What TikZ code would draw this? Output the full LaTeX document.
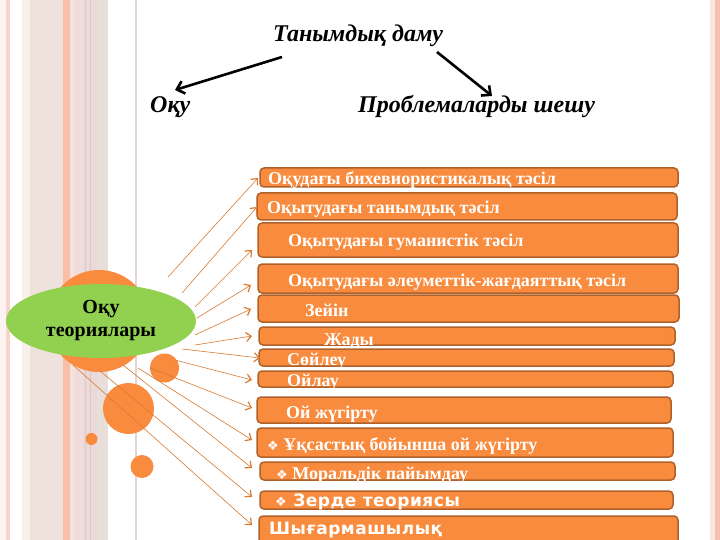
\documentclass[tikz,border=0pt]{standalone}
\usepackage{fontspec}
\setmainfont{Liberation Serif}
\newfontfamily\dejavu{DejaVu Sans}
\newfontfamily\sansb[LetterSpace=3]{DejaVu Sans}
\usetikzlibrary{arrows.meta,shapes.geometric,calc}
\definecolor{orng}{HTML}{F88B3D}
\definecolor{bord}{HTML}{B0612A}
\definecolor{conn}{HTML}{D97A30}
\definecolor{grn}{HTML}{92D050}
\definecolor{sA}{HTML}{FDF3F0}
\definecolor{sB}{HTML}{F8D5CB}
\definecolor{sC}{HTML}{F9F0EC}
\definecolor{sD}{HTML}{EFE1DB}
\definecolor{sE}{HTML}{FBBFA9}
\definecolor{sF}{HTML}{F5E2DC}
\definecolor{sG}{HTML}{F0DCDA}
\definecolor{sH}{HTML}{EAD9D7}
\definecolor{sI}{HTML}{E8DEDA}
\definecolor{vline}{HTML}{E2D6D2}
\definecolor{rstrip}{HTML}{F4C0B0}
\newcommand{\dia}{{\fontsize{13}{13}\selectfont\dejavu ❖}}
\begin{document}
\begin{tikzpicture}[x=1pt,y=-1pt,
  box/.style={draw=bord,line width=1.5pt,fill=orng,rounded corners=4pt,inner sep=0pt,outer sep=0pt},
  txt/.style={text=white,font=\fontsize{18}{20}\selectfont\bfseries,anchor=base west,inner sep=0pt},
  stxt/.style={text=white,font=\fontsize{17}{19}\selectfont\sansb\bfseries,anchor=base west,inner sep=0pt},
  head/.style={font=\fontsize{24}{26}\selectfont\bfseries\itshape,anchor=base west,inner sep=0pt},
  connector/.style={draw=conn,line width=0.6pt,-{Straight Barb[length=5pt,width=9pt,line width=1.2pt]}},
  bigarrow/.style={draw=black,line width=2.6pt,-{Straight Barb[length=7pt,width=13pt]}}]
\useasboundingbox (0,0) rectangle (720,540);
\clip (0,0) rectangle (720,540);
\fill[white] (0,0) rectangle (720,540);
% left decorative strips
\fill[sA] (0,0) rectangle (6,540);
\fill[sB] (6,0) rectangle (10,540);
\fill[sC] (22,0) rectangle (30,540);
\fill[sD] (30,0) rectangle (63,540);
\fill[sE] (63,0) rectangle (70,540);
\fill[sF] (70,0) rectangle (75,540);
\fill[sG] (75,0) rectangle (83,540);
\fill[sH] (83,0) rectangle (97,540);
\fill[sI] (97,0) rectangle (108,540);
\draw[sG!80!gray,line width=0.6pt] (85,0) -- (85,540) (90,0) -- (90,540);
\draw[vline,line width=1.5pt] (136,0) -- (136,540);
% right strip
\fill[rstrip!40] (710,0) rectangle (715,540);
\fill[rstrip] (715,0) rectangle (720,540);
% circles
\fill[orng] (99,321) circle (51);
\fill[orng] (164.5,368) circle (14.5);
\fill[orng] (128.5,408.5) circle (25.5);
\fill[orng] (91.5,439) circle (6);
\fill[orng] (142,466.5) circle (11.5);
% central ellipse
\node[ellipse,fill=grn,minimum width=190,minimum height=74,inner sep=0pt,align=center,
  font=\fontsize{20}{23}\selectfont\bfseries] (ot) at (101,321) {Оқу\\теориялары};
% header
\node[head] (title) at (273,42) {Танымдық даму};
\node[head] (oku) at (150,113) {Оқу};
\node[head] (prob) at (358,113) {Проблемаларды шешу};
\coordinate (a1s) at (282,57);
\coordinate (a1e) at (175,90);
\coordinate (a2s) at (437,52);
\coordinate (a2e) at (492,96);
\draw[bigarrow] (a1s) -- (a1e);
\draw[bigarrow] (a2s) -- (a2e);
% boxes
\node[box,minimum width=418,minimum height=19] (b1) at (469,177.5) {};
\node[box,minimum width=420,minimum height=27] (b2) at (467,206.5) {};
\node[box,minimum width=420,minimum height=34] (b3) at (468,240) {};
\node[box,minimum width=420,minimum height=29] (b4) at (468,278.5) {};
\node[box,minimum width=421,minimum height=27] (b5) at (468.5,308.5) {};
\node[box,minimum width=416,minimum height=18] (b6) at (467,336) {};
\node[box,minimum width=415,minimum height=17] (b7) at (466.5,357.5) {};
\node[box,minimum width=415,minimum height=16] (b8) at (465.5,379) {};
\node[box,minimum width=414,minimum height=26] (b9) at (464,410) {};
\node[box,minimum width=416,minimum height=29] (b10) at (465,442.5) {};
\node[box,minimum width=415,minimum height=18] (b11) at (467.5,471) {};
\node[box,minimum width=413,minimum height=18] (b12) at (466.5,500) {};
\node[box,minimum width=419,minimum height=32] (b13) at (468.5,532) {};
% box texts
\node[txt] (t1) at (268,185) {Оқудағы бихевиористикалық тәсіл};
\node[txt] (t2) at (267,214) {Оқытудағы танымдық тәсіл};
\node[txt] (t3) at (288,246) {Оқытудағы гуманистік тәсіл};
\node[txt] (t4) at (288,286) {Оқытудағы әлеуметтік-жағдаяттық тәсіл};
\node[txt] (t5) at (305,316) {Зейін};
\node[txt] (t6) at (324,345) {Жады};
\node[txt] (t7) at (287,365) {Сөйлеу};
\node[txt] (t8) at (287,386) {Ойлау};
\node[txt] (t9) at (286,418) {Ой жүгірту};
\node[txt] (t10) at (267,450) {\dia\ Ұқсастық бойынша ой жүгірту};
\node[txt] (t11) at (276,479) {\dia\ Моральдік пайымдау};
\node[stxt] (t12) at (275,506) {\dia\ Зерде теориясы};
\node[stxt] (t13) at (269,534) {Шығармашылық};
% connector start points
\coordinate (s1) at (168,277);
\coordinate (s2) at (182,293);
\coordinate (s3) at (195,307);
\coordinate (s4) at (197,318);
\coordinate (s5) at (195,335);
\coordinate (s6) at (195,345);
\coordinate (s7) at (182,349);
\coordinate (s8) at (175,360);
\coordinate (s9) at (150,368);
\coordinate (s10) at (138,368);
\coordinate (s11) at (123,365);
\coordinate (s12) at (100,371);
\coordinate (s13) at (73,365);
\draw[connector] (s1) -- ($(b1.west)+(-2,0.5)$);
\draw[connector] (s2) -- ($(b2.west)+(0,0.5)$);
\draw[connector] (s3) -- ($(b3.west)+(-6,10)$);
\draw[connector] (s4) -- ($(b4.west)+(-7,6.5)$);
\draw[connector] (s5) -- ($(b5.west)+(-7,0.5)$);
\draw[connector] (s6) -- ($(b6.west)+(-7,0)$);
\draw[connector] (s7) -- ($(b7.west)+(1,0.5)$);
\draw[connector] (s8) -- ($(b8.west)+(-6,1)$);
\draw[connector] (s9) -- ($(b9.west)+(-5,-2)$);
\draw[connector] (s10) -- ($(b10.west)+(-5,-2.5)$);
\draw[connector] (s11) -- ($(b11.west)+(-8,-3)$);
\draw[connector] (s12) -- ($(b12.west)+(-8,-3)$);
\draw[connector] (s13) -- ($(b13.west)+(-7,-7)$);
\end{tikzpicture}
\end{document}
